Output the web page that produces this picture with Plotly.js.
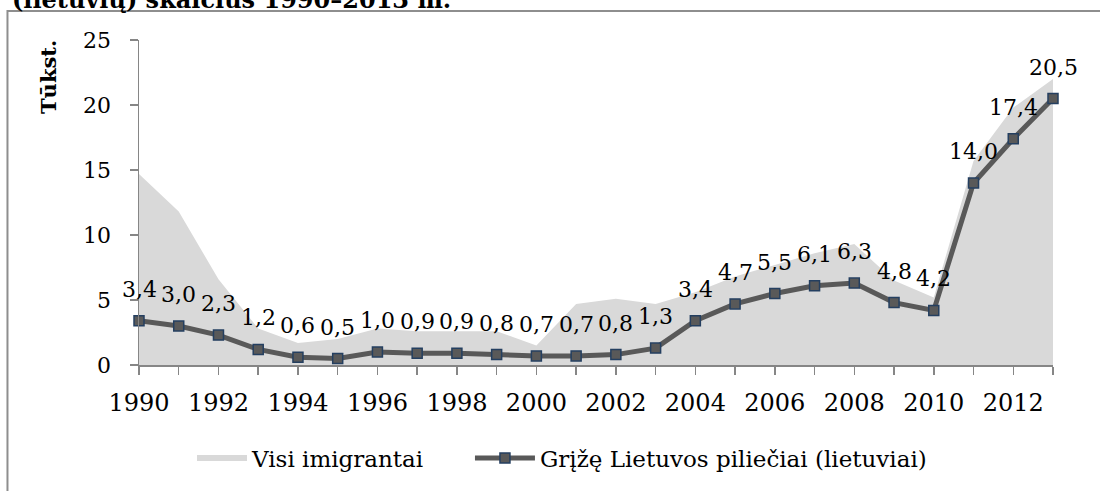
<!DOCTYPE html>
<html>
<head>
<meta charset="utf-8">
<script src="https://cdn.plot.ly/plotly-3.0.1.min.js"></script>
<style>
  html, body { margin: 0; padding: 0; background: #ffffff; }
  #chart { width: 1100px; height: 491px; }
</style>
</head>
<body>
<div id="chart"></div>
<script>
// ---- data ----
const years = [1990,1991,1992,1993,1994,1995,1996,1997,1998,1999,2000,2001,2002,2003,2004,2005,2006,2007,2008,2009,2010,2011,2012,2013];
const allImmigrants = [14.7,11.8,6.6,2.8,1.7,2.0,2.8,2.6,2.6,2.6,1.5,4.7,5.1,4.7,5.6,6.8,7.7,8.6,9.3,6.5,5.2,15.7,19.8,22.0];
const returnedCitizens = [3.4,3.0,2.3,1.2,0.6,0.5,1.0,0.9,0.9,0.8,0.7,0.7,0.8,1.3,3.4,4.7,5.5,6.1,6.3,4.8,4.2,14.0,17.4,20.5];
const xTickLabels = ['1990','','1992','','1994','','1996','','1998','','2000','','2002','','2004','','2006','','2008','','2010','','2012',''];
const yTickValues = [0,5,10,15,20,25];
const seriesNames = ['Visi imigrantai', 'Grįžę Lietuvos piliečiai (lietuviai)'];
const titleText = '(lietuvių) skaičius 1990–2013 m.';
const yTitleText = 'Tūkst.';

// ---- style ----
const serif = 'DejaVu Serif, Liberation Serif, serif';
const axisGray = '#868686';
const legendFont = { family: serif, size: 23, color: '#000000' };

const traces = [
  {
    x: years, y: allImmigrants, name: seriesNames[0], legend: 'legend',
    type: 'scatter', mode: 'none', fill: 'tozeroy',
    fillcolor: '#d9d9d9', hoverinfo: 'skip'
  },
  {
    x: years, y: returnedCitizens, name: seriesNames[1], legend: 'legend2',
    type: 'scatter', mode: 'lines+markers', cliponaxis: false,
    line: { color: '#595959', width: 5 },
    marker: { symbol: 'square', size: 10, color: '#595959', line: { color: '#243f60', width: 1.5 } }
  }
];

const labelAnnotations = years.map((yr, i) => ({
  x: yr, y: returnedCitizens[i], xref: 'x', yref: 'y',
  text: returnedCitizens[i].toFixed(1).replace('.', ','),
  showarrow: false, xanchor: 'center', yanchor: 'bottom', yshift: 17,
  font: { family: serif, size: 22, color: '#000000' }
}));

const layout = {
  width: 1100, height: 491,
  margin: { l: 139, r: 47, t: 40, b: 126, pad: 0 },
  paper_bgcolor: '#ffffff', plot_bgcolor: '#ffffff',
  showlegend: true,
  legend: {
    orientation: 'h', x: 0.058, xanchor: 'left', y: -0.286, yanchor: 'middle',
    font: legendFont, bgcolor: 'rgba(0,0,0,0)', itemwidth: 50
  },
  legend2: {
    orientation: 'h', x: 0.3621, xanchor: 'left', y: -0.286, yanchor: 'middle',
    font: legendFont, bgcolor: 'rgba(0,0,0,0)', itemwidth: 60
  },
  xaxis: {
    range: [1990, 2013], tickmode: 'array', tickvals: years, ticktext: xTickLabels,
    ticks: 'outside', ticklen: 8, tickwidth: 1.5, tickcolor: axisGray,
    showline: true, linecolor: axisGray, linewidth: 1.5,
    showgrid: false, zeroline: false, ticklabelstandoff: 8,
    tickfont: { family: serif, size: 24, color: '#000000' }
  },
  yaxis: {
    range: [0, 25], tickmode: 'array', tickvals: yTickValues,
    ticks: 'outside', ticklen: 8, tickwidth: 1.5, tickcolor: axisGray,
    showline: true, linecolor: axisGray, linewidth: 1.5,
    showgrid: false, zeroline: false, ticklabelstandoff: 14,
    tickfont: { family: serif, size: 22, color: '#000000' }
  },
  shapes: [
    { type: 'rect', xref: 'paper', yref: 'paper', x0: -0.1439, x1: 1.2, y0: -0.6, y1: 1.0892,
      line: { color: '#8e8e8e', width: 2 }, fillcolor: 'rgba(0,0,0,0)', layer: 'below' }
  ],
  annotations: labelAnnotations.concat([
    { text: '<b>' + yTitleText + '</b>', xref: 'paper', yref: 'paper', x: -0.0996, y: 0.886,
      xanchor: 'center', yanchor: 'middle', textangle: -90, showarrow: false,
      font: { family: serif, size: 21, color: '#000000' } },
    { text: '<b>' + titleText + '</b>', xref: 'paper', yref: 'paper', x: -0.141, y: 1.0738,
      xanchor: 'left', yanchor: 'bottom', showarrow: false,
      font: { family: serif, size: 24, color: '#000000' } }
  ])
};

Plotly.newPlot('chart', traces, layout, { displayModeBar: false, staticPlot: true });
</script>
</body>
</html>
